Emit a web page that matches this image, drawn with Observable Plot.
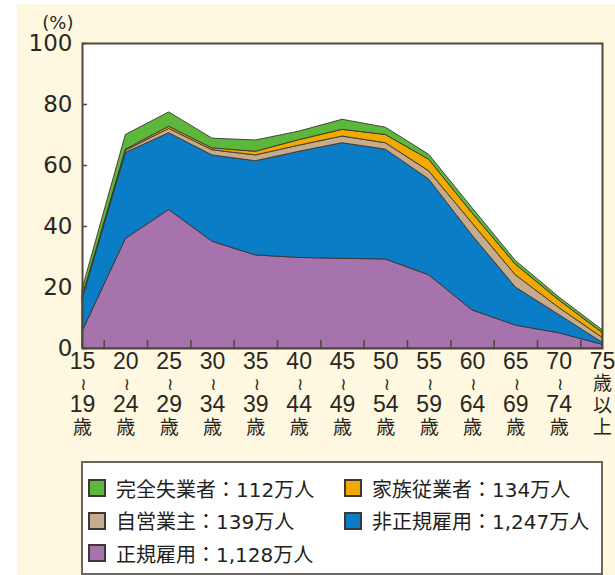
<!DOCTYPE html>
<html><head><meta charset="utf-8">
<script src="https://cdn.jsdelivr.net/npm/d3@7"></script>
<script src="https://cdn.jsdelivr.net/npm/@observablehq/plot@0.6"></script>
<style>
body{margin:0;background:#fff;}
#wrap{position:relative;width:615px;height:575px;overflow:hidden;font-family:"Liberation Sans","Noto Sans CJK JP",sans-serif;}
#bg{position:absolute;left:17px;top:4px;right:0;bottom:0;background:#fdf8df;}
#chart{position:absolute;left:0;top:0;}
#legend{position:absolute;left:81px;top:461px;width:522px;height:114px;background:#fff;border:2px solid #6e665c;box-sizing:border-box;
  display:grid;grid-template-columns:256px 256px;grid-auto-rows:32.5px;padding:9px 0 0 5px;color:#231f20;font-size:20px;
  font-family:"DejaVu Sans","Noto Sans CJK JP",sans-serif;}
.item{display:flex;align-items:center;white-space:nowrap;}
.sw{width:18px;height:18px;border:2px solid #3d3833;box-sizing:border-box;margin-right:10px;flex:none;}
</style></head>
<body>
<div id="wrap"><div id="bg"></div><div id="chart"></div><div id="legend"></div></div>
<script>
const ageStart = ["15","20","25","30","35","40","45","50","55","60","65","70","75"];
const ageEnd   = ["19","24","29","34","39","44","49","54","59","64","69","74",""];
const lastSuffix = ["歳","以","上"]; // label lines under "75"
const rangeMark = "≀";
const seriesNames = ["正規雇用","非正規雇用","自営業主","家族従業者","完全失業者"]; // stack order bottom -> top
const seriesColors = ["#a673ad","#0b7dc6","#c6ab8c","#f2a900","#5cb83a"];
const seriesTotals = ["1,128万人","1,247万人","139万人","134万人","112万人"];
const regular    = [5.5, 35.9, 45.4, 35.0, 30.5, 29.7, 29.4, 29.2, 24.0, 12.5, 7.5, 5.0, 1.2];
const nonRegular = [10.7, 28.2, 25.2, 28.3, 30.9, 34.8, 37.9, 36.0, 31.4, 24.5, 12.5, 6.0, 0.7];
const selfEmp    = [0.3, 0.7, 1.4, 1.7, 1.9, 2.0, 2.2, 2.1, 2.7, 4.0, 4.0, 2.3, 1.6];
const family     = [0.3, 0.4, 0.7, 0.6, 1.2, 1.8, 2.2, 2.7, 3.8, 3.3, 3.5, 2.5, 1.6];
const unemployed = [2.5, 4.8, 4.7, 3.2, 3.7, 2.8, 3.3, 2.4, 1.6, 1.7, 1.2, 1.0, 0.9];
const yTicks = [0, 20, 40, 60, 80, 100];
const legendOrder = ["完全失業者","家族従業者","自営業主","非正規雇用","正規雇用"];

const seriesValues = [regular, nonRegular, selfEmp, family, unemployed];
const table = [];
seriesNames.forEach((s, i) => seriesValues[i].forEach((v, j) => table.push({age: j, series: s, value: v})));
const n = ageStart.length;
const idx = d3.range(n);
const ranged = idx.filter(i => ageEnd[i] !== "");
const last = idx.filter(i => ageEnd[i] === "");
const midTicks = idx.slice(1).map(i => i - 0.5);
const ink = "#2b2622";
const font = '"Liberation Sans","Noto Sans CJK JP",sans-serif';

const chart = Plot.plot({
  width: 615, height: 460,
  marginLeft: 82, marginRight: 13, marginTop: 43, marginBottom: 112,
  style: {background: "transparent", fontFamily: font, fontSize: "22px", color: ink, overflow: "visible"},
  x: {type: "linear", domain: [0, n - 1], axis: null},
  y: {domain: [0, 100], axis: null},
  color: {domain: seriesNames, range: seriesColors},
  marks: [
    Plot.frame({fill: "white", stroke: null}),
    Plot.areaY(table, {x: "age", y: "value", z: "series", fill: "series", order: seriesNames, stroke: "#3a3430", strokeWidth: 1, strokeOpacity: 0.9}),
    Plot.axisX(midTicks, {anchor: "bottom", tickSize: -8, text: null, label: null, stroke: "#4f463d", strokeWidth: 1.5}),
    // x labels, one mark per line
    Plot.text(idx, {x: i => i, text: i => ageStart[i], frameAnchor: "bottom", dy: 20, fontSize: 23, fill: ink}),
    Plot.text(ranged, {x: i => i, text: () => rangeMark, frameAnchor: "bottom", dx: 1, dy: 41, fontSize: 17, fontFamily: "DejaVu Sans", fill: ink}),
    Plot.text(ranged, {x: i => i, text: i => ageEnd[i], frameAnchor: "bottom", dy: 63, fontSize: 23, fill: ink}),
    Plot.text(ranged, {x: i => i, text: () => "歳", frameAnchor: "bottom", dy: 85, fontSize: 19, fill: ink}),
    Plot.text(last, {x: i => i, text: () => lastSuffix[0], frameAnchor: "bottom", dy: 41, fontSize: 19, fill: ink}),
    Plot.text(last, {x: i => i, text: () => lastSuffix[1], frameAnchor: "bottom", dy: 63, fontSize: 19, fill: ink}),
    Plot.text(last, {x: i => i, text: () => lastSuffix[2], frameAnchor: "bottom", dy: 85, fontSize: 19, fill: ink}),
    Plot.axisY(yTicks, {anchor: "left", tickSize: -5, text: null, label: null, stroke: "#4f463d", strokeWidth: 1.5}),
    Plot.axisY(yTicks, {anchor: "left", tickSize: 0, tickPadding: 10, label: null, fontSize: 23, fontFamily: "DejaVu Sans", fill: ink}),
    Plot.frame({stroke: "#4f463d", strokeWidth: 2}),
    Plot.text(["(%)"], {frameAnchor: "top-left", dx: -9, dy: -27, textAnchor: "end", fontSize: 18, fontFamily: "DejaVu Sans", fill: ink})
  ]
});
document.getElementById("chart").appendChild(chart);

const legend = d3.select("#legend");
legendOrder.forEach(name => {
  const i = seriesNames.indexOf(name);
  const it = legend.append("div").attr("class", "item");
  it.append("div").attr("class", "sw").style("background", seriesColors[i]);
  it.append("span").text(name + "：" + seriesTotals[i]);
});
</script>
</body></html>
